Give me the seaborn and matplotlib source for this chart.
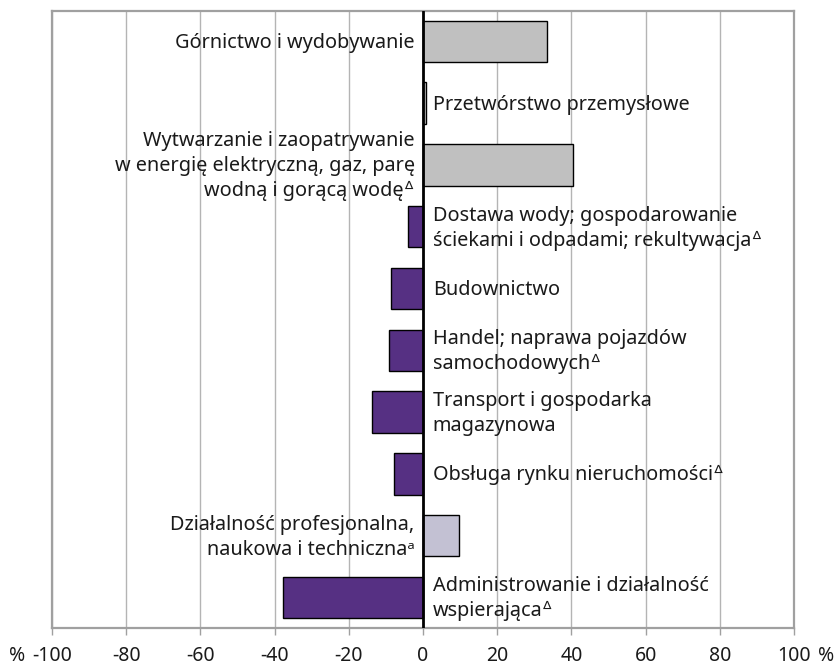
import matplotlib
matplotlib.use("Agg")
import matplotlib.pyplot as plt
import seaborn as sns
import pandas as pd

# sekcje PKD i zmiana w %
categories = [
    "Górnictwo i wydobywanie",
    "Przetwórstwo przemysłowe",
    "Wytwarzanie i zaopatrywanie\nw energię elektryczną, gaz, parę\nwodną i gorącą wodę",
    "Dostawa wody; gospodarowanie\nściekami i odpadami; rekultywacja",
    "Budownictwo",
    "Handel; naprawa pojazdów\nsamochodowych",
    "Transport i gospodarka\nmagazynowa",
    "Obsługa rynku nieruchomości",
    "Działalność profesjonalna,\nnaukowa i techniczna",
    "Administrowanie i działalność\nwspierająca",
]
# przypisy: ᐞ = Δ w indeksie górnym, ᵃ = a w indeksie górnym
footnotes = ["", "", "ᐞ", "ᐞ", "", "ᐞ", "", "ᐞ", "ᵃ", "ᐞ"]
values = [33.3, 0.9, 40.5, -4.1, -8.6, -9.1, -13.7, -7.7, 9.7, -37.7]
xticks = [-100, -80, -60, -40, -20, 0, 20, 40, 60, 80, 100]

GRAY = "#c0c0c0"
LAVENDER = "#c3c1d3"
PURPLE = "#563083"

colors = []
for v, f in zip(values, footnotes):
    if f == "ᵃ":
        colors.append(LAVENDER)
    elif v >= 0:
        colors.append(GRAY)
    else:
        colors.append(PURPLE)

df = pd.DataFrame({"kat": categories, "val": values})

sns.set_style("white")
plt.rcParams["font.family"] = ["Noto Sans", "DejaVu Sans"]

fig = plt.figure(figsize=(8.36, 6.66), dpi=100)
ax = fig.add_axes([0.0622, 0.0566, 0.8876, 0.9276])

sns.barplot(data=df, x="val", y="kat", hue="kat", palette=colors, legend=False,
            orient="h", width=0.67, edgecolor="black", linewidth=1, ax=ax,
            saturation=1)

ax.set_xlim(-100, 100)
ax.set_ylim(9.5, -0.5)
ax.set_xticks(xticks)
ax.set_xticklabels([str(t) for t in xticks], fontsize=14, color="#1a1a1a")
ax.set_yticks([])
ax.set_xlabel("")
ax.set_ylabel("")
ax.set_axisbelow(True)
ax.xaxis.grid(True, color="#b4b4b4", lw=1)
for s in ax.spines.values():
    s.set_color("#a0a0a0")
    s.set_linewidth(1.6)
ax.tick_params(axis="x", bottom=True, length=5, width=1, color="#a0a0a0", pad=8)
ax.axvline(0, color="black", lw=2, zorder=5)

# % na koncach osi
ax.annotate("%", xy=(-100, 0), xycoords=("data", "axes fraction"),
            xytext=(-19.5, -13), textcoords="offset points", ha="right", va="top",
            fontsize=14, color="#1a1a1a")
ax.annotate("%", xy=(100, 0), xycoords=("data", "axes fraction"),
            xytext=(17, -13), textcoords="offset points", ha="left", va="top",
            fontsize=14, color="#1a1a1a")

for i, (name, v, f) in enumerate(zip(categories, values, footnotes)):
    txt = name + f
    if v > 2:
        ax.annotate(txt, xy=(0, i), xytext=(-6, -1), textcoords="offset points",
                    ha="right", va="center", fontsize=14.3, linespacing=1.33,
                    color="#1a1a1a", zorder=6)
    else:
        ax.annotate(txt, xy=(0, i), xytext=(7, -1), textcoords="offset points",
                    ha="left", va="center", fontsize=14.3, linespacing=1.33,
                    color="#1a1a1a", zorder=6)

fig.savefig("out.png", dpi=100)
